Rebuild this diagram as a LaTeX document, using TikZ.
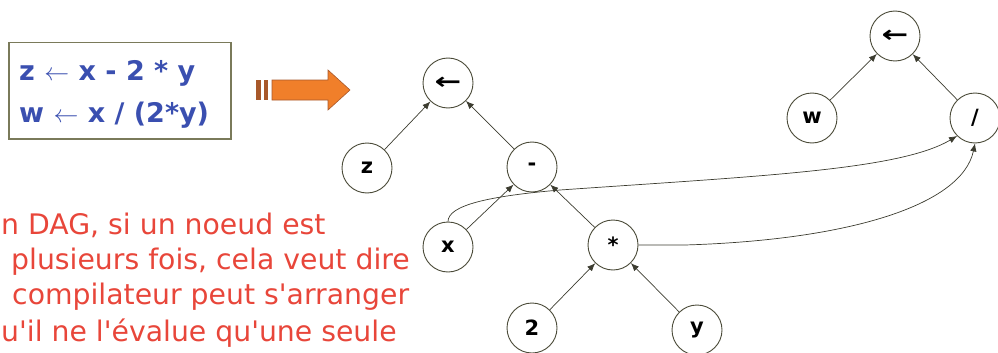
\documentclass[tikz,border=0pt]{standalone}
\usepackage{fontspec}
\setmainfont{DejaVu Sans}
\usetikzlibrary{arrows.meta}
\definecolor{boxblue}{HTML}{3A4FB0}
\definecolor{redtxt}{HTML}{E8463A}
\definecolor{edgec}{HTML}{3C3C30}
\definecolor{circc}{HTML}{4A4A38}
\definecolor{framec}{HTML}{7A7A5A}
\definecolor{orangef}{HTML}{F07F2A}
\definecolor{oranged}{HTML}{A8582A}
\tikzset{
  vertex/.style={circle,draw=circc,line width=0.9pt,minimum size=50pt,inner sep=0pt,fill=white,font=\fontsize{21}{21}\selectfont\bfseries},
  edge/.style={draw=edgec,line width=0.7pt,-{Latex[length=8pt,width=6.5pt]}},
  redline/.style={anchor=west,text=redtxt,font=\fontsize{28.3}{28.3}\selectfont,inner sep=0pt},
  codeline/.style={anchor=west,text=boxblue,font=\fontsize{27}{27}\selectfont\bfseries,inner sep=0pt}
}
\newcommand{\assignarrow}{\scalebox{1.45}[1.05]{\fontsize{22}{22}\selectfont\bfseries ←}}
\newcommand{\apos}{\textquotesingle}
\begin{document}
\begin{tikzpicture}[x=1pt,y=-1pt]
\useasboundingbox (0,0) rectangle (998,353);
% code box
\node[draw=framec,line width=1.5pt,minimum width=222pt,minimum height=96pt,anchor=north west,inner sep=0pt] (codebox) at (8,42) {};
\node[codeline] (l1) at (19,73) {z $\leftarrow$ x - 2 * y};
\node[codeline] (l2) at (19,115) {w $\leftarrow$ x / (2*y)};
% orange arrow
\fill[oranged] (256,80) rectangle (261,100);
\fill[oranged] (264,80) rectangle (268,100);
\draw[oranged,line width=0.6pt,fill=orangef] (272,80) -- (328,80) -- (328,70) -- (350,90) -- (328,110) -- (328,100) -- (272,100) -- cycle;
% red text
\node[redline] (t1) at (1,225) {n DAG, si un noeud est};
\node[redline] (t2) at (11,262) {plusieurs fois, cela veut dire};
\node[redline] (t3) at (12,297) {compilateur peut s\apos arranger};
\node[redline] (t4) at (1,333) {u\apos il ne l\apos évalue qu\apos une seule};
% left tree
\node[vertex] (lassign) at (448,83) {\assignarrow};
\node[vertex] (z) at (367,168) {z};
\node[vertex] (minus) at (532,167) {-};
\node[vertex] (x) at (448,247) {x};
\node[vertex] (times) at (613,245) {*};
\node[vertex] (two) at (532,328) {2};
\node[vertex] (y) at (697,330) {y};
% right tree
\node[vertex] (rassign) at (895,36) {\assignarrow};
\node[vertex] (w) at (812,118) {w};
\node[vertex] (div) at (975,118) {/};
% edges
\draw[edge] (z) -- (lassign);
\draw[edge] (minus) -- (lassign);
\draw[edge] (x) -- (minus);
\draw[edge] (times) -- (minus);
\draw[edge] (two) -- (times);
\draw[edge] (y) -- (times);
\draw[edge] (w) -- (rassign);
\draw[edge] (div) -- (rassign);
\draw[edge] (x.north) .. controls (448,205) and (490,196) .. (560,190) .. controls (760,176) and (900,170) .. (div.south west);
\draw[edge] (times.east) -- (685,245) .. controls (850,240) and (962,205) .. (div.south);
\end{tikzpicture}
\end{document}
